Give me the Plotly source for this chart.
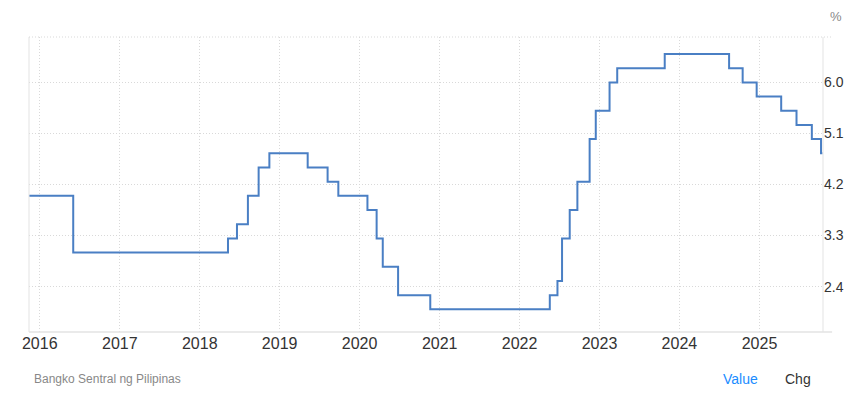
import plotly.graph_objects as go

# Policy rate change dates and new values (%)
dates = ["2015-11-13", "2016-06-02", "2018-05-10", "2018-06-20", "2018-08-09",
         "2018-09-27", "2018-11-15", "2019-05-09", "2019-08-08", "2019-09-26",
         "2020-02-06", "2020-03-19", "2020-04-16", "2020-06-25", "2020-11-19",
         "2022-05-19", "2022-06-23", "2022-07-14", "2022-08-18", "2022-09-22",
         "2022-11-17", "2022-12-15", "2023-02-16", "2023-03-23", "2023-10-26",
         "2024-08-15", "2024-10-16", "2024-12-19", "2025-04-10", "2025-06-19",
         "2025-08-28", "2025-10-09", "2025-10-16"]
rates = [4.0, 3.0, 3.25, 3.5, 4.0,
         4.5, 4.75, 4.5, 4.25, 4.0,
         3.75, 3.25, 2.75, 2.25, 2.0,
         2.25, 2.5, 3.25, 3.75, 4.25,
         5.0, 5.5, 6.0, 6.25, 6.5,
         6.25, 6.0, 5.75, 5.5, 5.25,
         5.0, 4.75, 4.75]

y_ticks = [2.4, 3.3, 4.2, 5.1, 6.0]
x_ticks = ["2016-01-01", "2017-01-01", "2018-01-01", "2019-01-01", "2020-01-01",
           "2021-01-01", "2022-01-01", "2023-01-01", "2024-01-01", "2025-01-01"]
x_labels = ["2016", "2017", "2018", "2019", "2020", "2021", "2022", "2023", "2024", "2025"]

fig = go.Figure()
fig.add_trace(go.Scatter(x=dates, y=rates, mode="lines", line_shape="hv",
                         line=dict(color="#4a7fc4", width=2), hoverinfo="x+y"))

grid = "#d9d9d9"
dotted = "1px,2px"
fig.update_layout(
    width=853, height=397,
    margin=dict(l=21, r=38, t=29, b=73, autoexpand=False),
    paper_bgcolor="white", plot_bgcolor="white",
    showlegend=False,
    font=dict(family="Liberation Sans, Arial, sans-serif", color="#333333"),
    xaxis=dict(range=["2015-11-13", "2025-10-18"], tickvals=x_ticks, ticktext=x_labels,
               showgrid=True, gridcolor=grid, griddash=dotted, gridwidth=1,
               showline=False, zeroline=False, ticks="",
               tickfont=dict(size=16, color="#333333")),
    yaxis=dict(range=[1.6, 6.8], tickvals=y_ticks, ticktext=[f"{v:.1f}" for v in y_ticks],
               side="right", showgrid=True, gridcolor=grid, griddash=dotted, gridwidth=1,
               showline=False, zeroline=False, ticks="",
               tickfont=dict(size=14, color="#333333")),
    shapes=[
        # left axis line
        dict(type="line", xref="paper", yref="paper", x0=0, x1=0, y0=0, y1=1,
             line=dict(color="#e3e3e3", width=1)),
        # right axis line
        dict(type="line", xref="paper", yref="paper", x0=1, x1=1, y0=0, y1=1,
             line=dict(color="#e3e3e3", width=1)),
        # bottom axis line
        dict(type="line", xref="paper", yref="paper", x0=0, x1=1.0115, y0=0, y1=0,
             line=dict(color="#e3e3e3", width=1.5)),
        # top dotted line
        dict(type="line", xref="paper", yref="paper", x0=0, x1=1.0115, y0=1, y1=1,
             line=dict(color=grid, width=1, dash=dotted)),
        # card border (right)
        dict(type="line", xref="paper", yref="paper", x0=1.0445, x1=1.0445, y0=-0.24, y1=1.1,
             line=dict(color="#efefef", width=1)),
    ],
    annotations=[
        dict(text="%", xref="paper", yref="paper", x=1.0165, y=1.071, xanchor="center",
             yanchor="middle", showarrow=False, font=dict(size=13, color="#888888")),
        dict(text="Bangko Sentral ng Pilipinas", xref="paper", yref="paper", x=0.004, y=-0.159,
             xanchor="left", yanchor="middle", showarrow=False,
             font=dict(size=12, color="#888888")),
        dict(text="Value", xref="paper", yref="paper", x=0.871, y=-0.159,
             xanchor="left", yanchor="middle", showarrow=False,
             font=dict(size=14, color="#1a8cff")),
        dict(text="Chg", xref="paper", yref="paper", x=0.950, y=-0.159,
             xanchor="left", yanchor="middle", showarrow=False,
             font=dict(size=14, color="#333333")),
    ],
)

fig.write_html("out.html")
